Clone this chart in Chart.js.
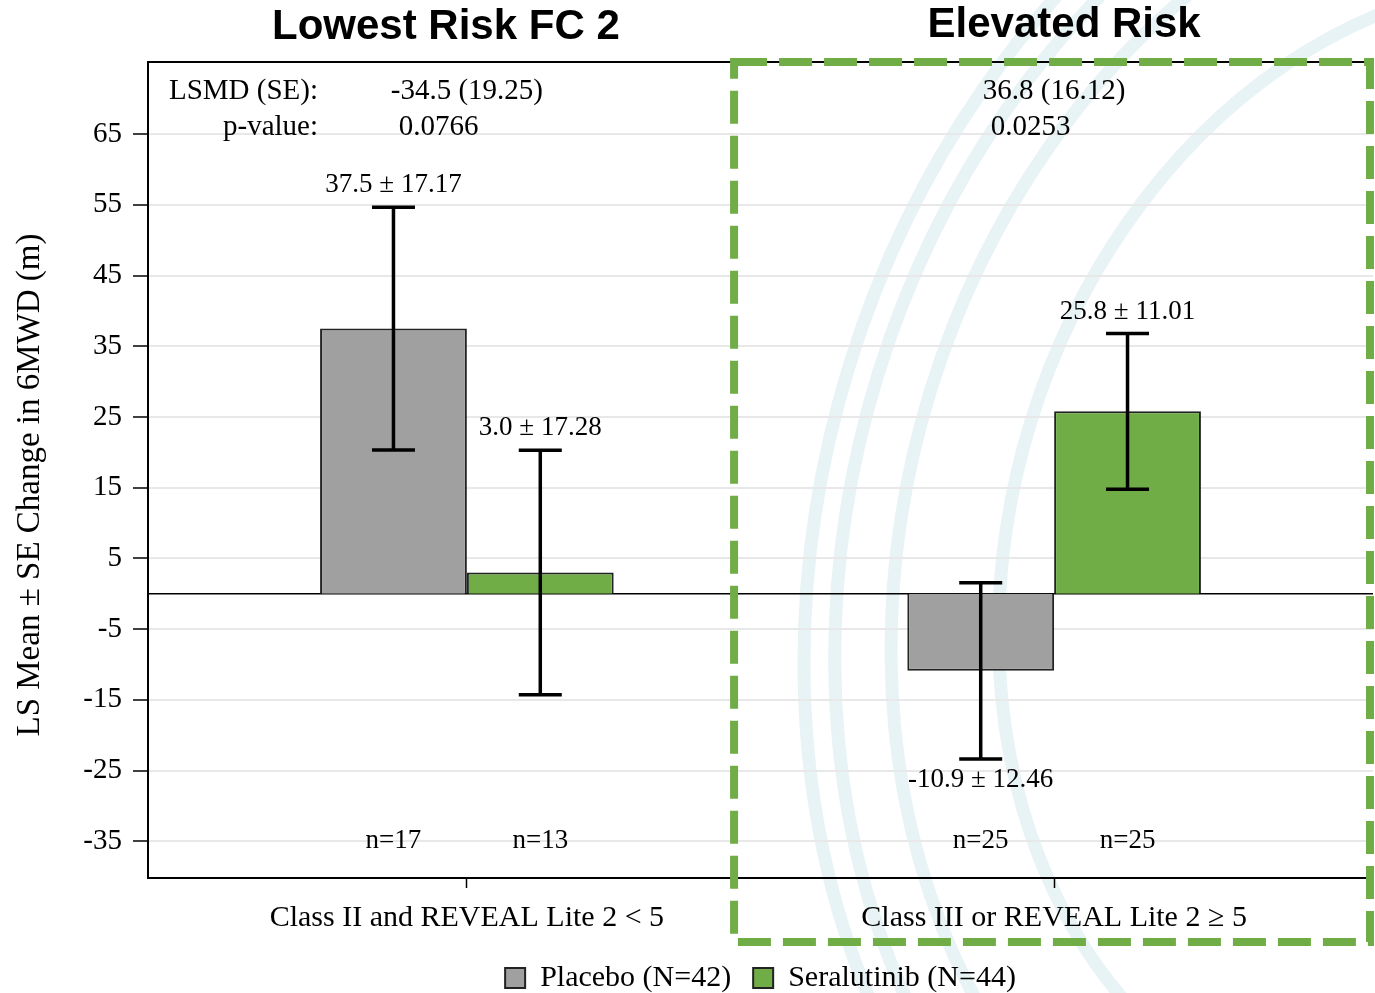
<!DOCTYPE html>
<html>
<head>
<meta charset="utf-8">
<script src="https://cdn.jsdelivr.net/npm/chart.js@4.4.1/dist/chart.umd.min.js"></script>
<style>
  html, body { margin: 0; padding: 0; background: #fff; }
</style>
</head>
<body>
<canvas id="chart" width="1375" height="993"></canvas>
<script>
// Data
const groups = ['Class II and REVEAL Lite 2 < 5', 'Class III or REVEAL Lite 2 \u2265 5'];
const panelTitles = ['Lowest Risk FC 2', 'Elevated Risk'];
const seriesNames = ['Placebo (N=42)', 'Seralutinib (N=44)'];
const placeboMean = [37.5, -10.9];
const placeboSE = [17.17, 12.46];
const placeboN = [17, 25];
const seralMean = [3.0, 25.8];
const seralSE = [17.28, 11.01];
const seralN = [13, 25];
const lsmdText = ['-34.5 (19.25)', '36.8 (16.12)'];
const pValueText = ['0.0766', '0.0253'];
const yTicks = [65, 55, 45, 35, 25, 15, 5, -5, -15, -25, -35];
const yTitle = 'LS Mean \u00b1 SE Change in 6MWD (m)';

const SERIF = '"Liberation Serif", "Times New Roman", serif';
const SANS = '"Liberation Sans", Arial, sans-serif';
const GRAY = '#a0a0a0';
const GREEN = '#70ad47';

const means = [placeboMean, seralMean];
const ses = [placeboSE, seralSE];
const counts = [placeboN, seralN];

const overlay = {
    id: 'overlay',
    afterLayout(chart) {
        // push the legend row a little lower, as in the reference
        chart.legend.top += 10;
        chart.legend.bottom += 10;
    },
    beforeDraw(chart) {
        const ctx = chart.ctx;
        ctx.save();
        ctx.fillStyle = '#fff';
        ctx.fillRect(0, 0, chart.width, chart.height);
        // faint watermark arcs in the background
        ctx.strokeStyle = 'rgba(205, 228, 233, 0.45)';
        ctx.lineWidth = 13;
        [660, 630, 575, 470].forEach(r => {
            ctx.beginPath();
            ctx.ellipse(1480, 560, r, r * 1.25, 0.3, 0, Math.PI * 2);
            ctx.stroke();
        });
        ctx.restore();
    },
    beforeDatasetsDraw(chart) {
        const {ctx, chartArea: a, scales: {y}} = chart;
        ctx.save();
        ctx.strokeStyle = '#000';
        ctx.lineWidth = 1.5;
        const y0 = y.getPixelForValue(0);
        ctx.beginPath();
        ctx.moveTo(a.left, y0);
        ctx.lineTo(a.right, y0);
        ctx.stroke();
        ctx.lineWidth = 2;
        ctx.beginPath();
        ctx.moveTo(a.left, a.top);
        ctx.lineTo(a.right, a.top);
        ctx.stroke();
        ctx.restore();
    },
    afterDatasetsDraw(chart) {
        const {ctx, chartArea: a, scales: {x, y}} = chart;
        ctx.save();

        // error bars, value labels, n labels
        means.forEach((series, ds) => {
            const meta = chart.getDatasetMeta(ds);
            series.forEach((m, i) => {
                const bx = meta.data[i].x;
                const se = ses[ds][i];
                const yHi = y.getPixelForValue(m + se);
                const yLo = y.getPixelForValue(m - se);
                ctx.strokeStyle = '#000';
                ctx.lineWidth = 3.5;
                ctx.beginPath();
                ctx.moveTo(bx, yHi); ctx.lineTo(bx, yLo);
                ctx.moveTo(bx - 21.5, yHi); ctx.lineTo(bx + 21.5, yHi);
                ctx.moveTo(bx - 21.5, yLo); ctx.lineTo(bx + 21.5, yLo);
                ctx.stroke();

                ctx.fillStyle = '#000';
                ctx.font = '27px ' + SERIF;
                ctx.textAlign = 'center';
                ctx.textBaseline = 'middle';
                const label = m.toFixed(1) + ' \u00b1 ' + se.toFixed(2);
                if (m >= 0) ctx.fillText(label, bx, yHi - 22);
                else ctx.fillText(label, bx, yLo + 21);

                ctx.fillText('n=' + counts[ds][i], bx, y.getPixelForValue(-35));
            });
        });

        // LSMD / p-value block
        ctx.font = '29px ' + SERIF;
        ctx.textBaseline = 'middle';
        ctx.textAlign = 'right';
        ctx.fillText('LSMD (SE):', 318, a.top + 29);
        ctx.fillText('p-value:', 318, a.top + 65);
        groups.forEach((g, i) => {
            const cx = x.getPixelForValue(i);
            ctx.textAlign = 'center';
            ctx.fillText(lsmdText[i], cx, a.top + 29);
            const w = ctx.measureText(lsmdText[i]).width;
            ctx.textAlign = 'left';
            ctx.fillText(pValueText[i], cx - w / 2 + 8, a.top + 65);
        });

        // y axis title (sits a bit below the plot's centre in the reference)
        ctx.save();
        ctx.translate(30, a.top + 423);
        ctx.rotate(-Math.PI / 2);
        ctx.font = '33px ' + SERIF;
        ctx.textAlign = 'center';
        ctx.fillText(yTitle, 0, 0);
        ctx.restore();

        // panel titles
        ctx.font = 'bold 42px ' + SANS;
        ctx.textAlign = 'center';
        ctx.fillText(panelTitles[0], x.getPixelForValue(0) - 21, a.top - 35);
        ctx.fillText(panelTitles[1], x.getPixelForValue(1) + 10, a.top - 37);

        // dashed highlight box around the elevated risk panel
        ctx.strokeStyle = GREEN;
        ctx.lineWidth = 8;
        ctx.setLineDash([33, 12]);
        const left = x.getPixelForValue(0.455);
        ctx.strokeRect(left, a.top, a.right - 3 - left, a.bottom + 64 - a.top);
        ctx.restore();
    }
};

new Chart(document.getElementById('chart'), {
    type: 'bar',
    data: {
        datasets: [
            {
                label: seriesNames[0],
                data: placeboMean.map((v, i) => ({x: i, y: v})),
                backgroundColor: GRAY,
                borderColor: '#222',
                borderWidth: 2
            },
            {
                label: seriesNames[1],
                data: seralMean.map((v, i) => ({x: i, y: v})),
                backgroundColor: GREEN,
                borderColor: '#222',
                borderWidth: 2
            }
        ]
    },
    options: {
        responsive: false,
        animation: false,
        categoryPercentage: 0.5,
        barPercentage: 1,
        layout: { padding: { top: 62, right: 2, left: 0, bottom: 0 } },
        scales: {
            x: {
                type: 'linear',
                min: -0.543,
                max: 1.543,
                offset: false,
                afterBuildTicks: s => { s.ticks = groups.map((g, i) => ({value: i})); },
                afterFit: s => { s.height = 53; },
                ticks: {
                    callback: v => groups[v],
                    font: { family: SERIF, size: 30 },
                    color: '#000',
                    padding: 12,
                    maxRotation: 0,
                    autoSkip: false
                },
                grid: {
                    offset: false,
                    drawOnChartArea: false,
                    drawTicks: true,
                    tickLength: 10,
                    tickColor: '#000',
                    tickWidth: 1.5
                },
                border: { display: true, color: '#000', width: 2 }
            },
            y: {
                min: -40.2,
                max: 75.2,
                afterBuildTicks: s => { s.ticks = yTicks.map(v => ({value: v})); },
                afterFit: s => { s.width = 148; },
                ticks: {
                    font: { family: SERIF, size: 29 },
                    color: '#000',
                    padding: 11
                },
                grid: {
                    color: '#e8e8e8',
                    lineWidth: 2,
                    tickColor: '#000',
                    tickLength: 15,
                    tickWidth: 1.5
                },
                border: { display: true, color: '#000', width: 2 }
            }
        },
        plugins: {
            legend: {
                position: 'bottom',
                fullSize: false,
                labels: {
                    boxWidth: 20,
                    boxHeight: 20,
                    padding: 22,
                    color: '#000',
                    font: { family: SERIF, size: 30 }
                }
            },
            tooltip: { enabled: false }
        }
    },
    plugins: [overlay]
});
</script>
</body>
</html>
